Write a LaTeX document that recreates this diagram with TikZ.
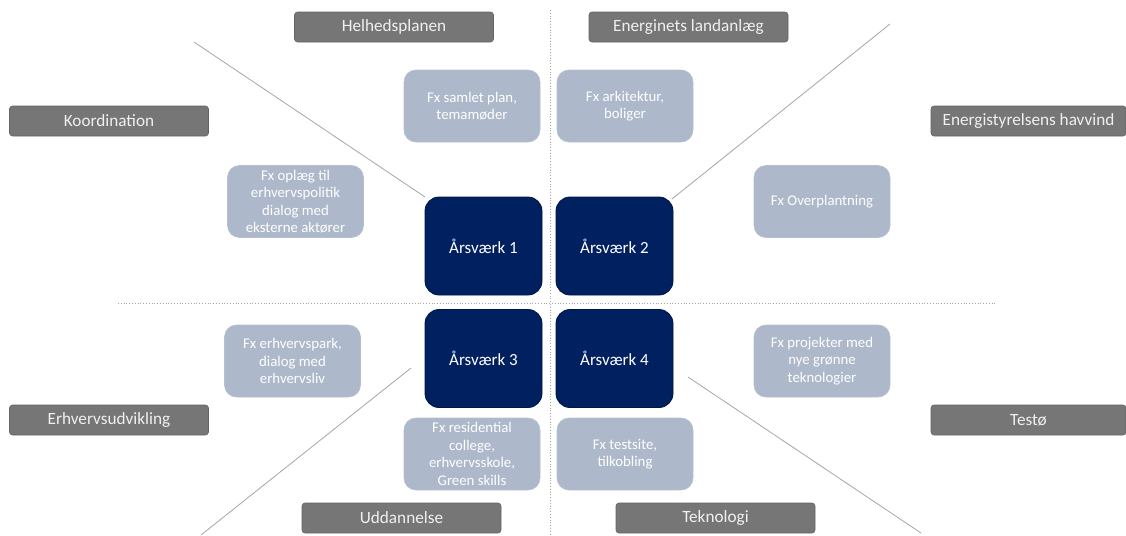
\documentclass[tikz,border=0pt]{standalone}
\usepackage{fontspec}
\setmainfont{Carlito}
\usepackage{tikz}
\usetikzlibrary{positioning}
\definecolor{navy}{RGB}{0,32,96}
\definecolor{labgray}{RGB}{118,118,118}
\definecolor{bluegray}{RGB}{173,185,202}
\definecolor{linegray}{RGB}{165,165,165}

\begin{document}
\begin{tikzpicture}[x=0.5pt,y=0.5pt,yscale=-1,xscale=1,
  graybox/.style={fill=labgray,draw=labgray!85!black,line width=0.3pt,rounded corners=1.5pt,
    minimum width=99.5pt,minimum height=15pt,inner sep=0pt,text=white!94!black,
    font=\fontsize{8.6}{10}\selectfont},
  lightbox/.style={fill=bluegray,draw=bluegray!90!white,line width=0.3pt,rounded corners=6pt,
    minimum width=68pt,minimum height=36pt,inner sep=0pt,text=white,align=center,
    font=\fontsize{7.4}{8.75}\selectfont},
  navybox/.style={fill=navy,draw=navy!70!black,line width=0.4pt,rounded corners=7pt,
    minimum width=58.5pt,minimum height=49pt,inner sep=0pt,text=white,
    font=\fontsize{8.5}{10}\selectfont},
  thinline/.style={draw=linegray,line width=0.4pt},
  dotline/.style={draw=linegray,line width=0.4pt,densely dotted}]
\useasboundingbox (0,0) rectangle (1126,536);

%Straight Lines (dotted axes)
\coordinate (vtop) at (550,10);
\coordinate (vbot) at (550,536);
\coordinate (hleft) at (118,303);
\coordinate (hright) at (996,303);
\draw [dotline] (vtop) -- (vbot) ;
\draw [dotline] (hleft) -- (hright) ;

%Straight Lines (diagonals)
\coordinate (tla) at (194,42);
\coordinate (tlb) at (425,197);
\coordinate (tra) at (672,199);
\coordinate (trb) at (890,24);
\coordinate (bla) at (411,368);
\coordinate (blb) at (201,535);
\coordinate (bra) at (688,377);
\coordinate (brb) at (921,533);
\draw [thinline] (tla) -- (tlb) ;
\draw [thinline] (tra) -- (trb) ;
\draw [thinline] (bla) -- (blb) ;
\draw [thinline] (bra) -- (brb) ;

% Rounded Rect Nodes (centre)
\draw (483.5,246) node [navybox] (aar1) {Årsværk 1};
\draw (614.5,246) node [navybox] (aar2) {Årsværk 2};
\draw (483.5,358.5) node [navybox] (aar3) {Årsværk 3};
\draw (614.5,358.5) node [navybox] (aar4) {Årsværk 4};

% Rounded Rect Nodes (examples)
\draw (472,106) node [lightbox] (samlet) {Fx samlet plan,\\temamøder};
\draw (625,106) node [lightbox] (arkitekt) {Fx arkitektur,\\boliger};
\draw (295.5,201.5) node [lightbox] (oplaeg) {Fx oplæg til\\erhvervspolitik\\dialog med\\eksterne aktører};
\draw (822,201.5) node [lightbox] (overplan) {Fx Overplantning};
\draw (292.5,361) node [lightbox] (erhvpark) {Fx erhvervspark,\\dialog med\\erhvervsliv};
\draw (822,361) node [lightbox] (projekt) {Fx projekter med\\nye grønne\\teknologier};
\draw (472,454) node [lightbox] (resid) {Fx residential\\college,\\erhvervsskole,\\Green skills};
\draw (625,454) node [lightbox] (testsite) {Fx testsite,\\tilkobling};

% Text Nodes (labels)
\draw (394,27) node [graybox] (helhed) {Helhedsplanen};
\draw (688.5,27) node [graybox] (landanl) {Energinets landanlæg};
\draw (109,121) node [graybox] (koord) {Koordination};
\draw (1028.5,121) node [graybox,minimum width=97.5pt] (havvind) {Energistyrelsens havvind};
\draw (109,420) node [graybox] (erhvudv) {Erhvervsudvikling};
\draw (1028.5,420) node [graybox,minimum width=97.5pt] (testoe) {Testø};
\draw (401.5,518) node [graybox] (uddan) {Uddannelse};
\draw (715.5,518) node [graybox] (teknol) {Teknologi};

\end{tikzpicture}
\end{document}
